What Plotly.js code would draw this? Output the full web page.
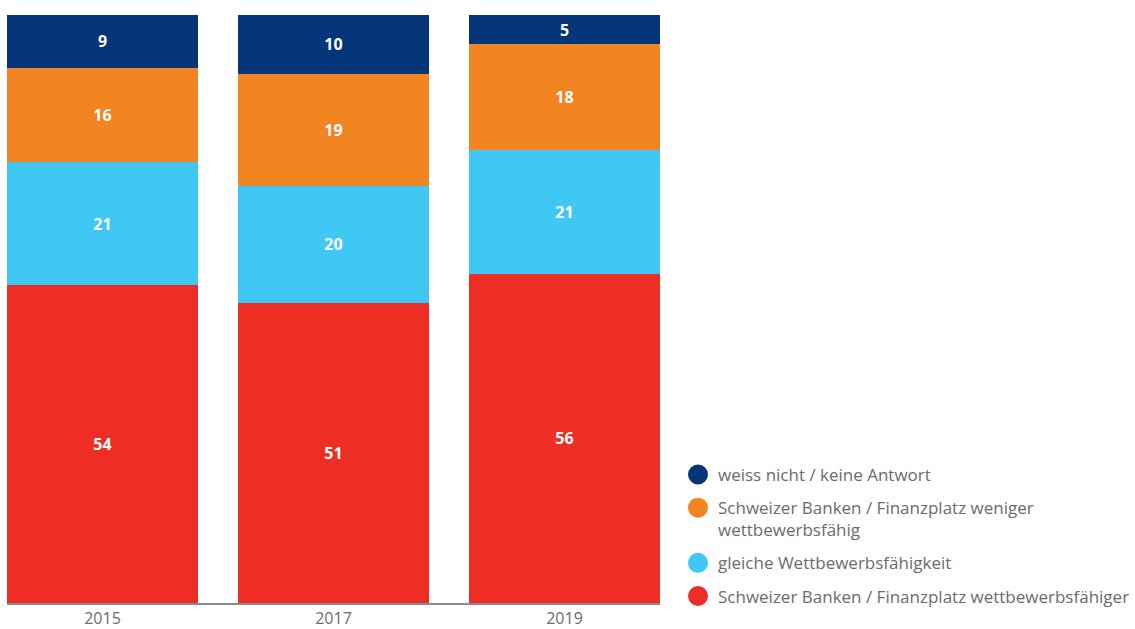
<!DOCTYPE html>
<html>
<head>
<meta charset="utf-8">
<script src="https://cdn.plot.ly/plotly-3.0.1.min.js"></script>
<style>html,body{margin:0;padding:0;background:#fff;}#chart{width:1135px;height:629px;}</style>
</head>
<body>
<div id="chart"></div>
<script>
const years = ['2015', '2017', '2019'];
const wettbewerbsfaehiger = [54, 51, 56];
const gleiche = [21, 20, 21];
const weniger = [16, 19, 18];
const weissNicht = [9, 10, 5];

const seriesNames = [
  'Schweizer Banken / Finanzplatz wettbewerbsfähiger',
  'gleiche Wettbewerbsfähigkeit',
  'Schweizer Banken / Finanzplatz weniger<br>wettbewerbsfähig',
  'weiss nicht / keine Antwort'
];
const seriesValues = [wettbewerbsfaehiger, gleiche, weniger, weissNicht];
const colors = ['#EE2D24', '#40C8F4', '#F28422', '#043578'];

const traces = [];
seriesValues.forEach((vals, i) => {
  traces.push({
    type: 'bar',
    x: years,
    y: vals,
    name: seriesNames[i],
    marker: {color: colors[i], line: {width: 0}},
    text: vals.map(String),
    textposition: 'inside',
    insidetextanchor: 'middle',
    textangle: 0,
    textfont: {family: 'Open Sans, sans-serif', size: 16, color: '#ffffff', weight: 'bold'},
    hoverinfo: 'skip',
    showlegend: false
  });
});
// legend entries with circular markers, top to bottom
for (let i = seriesNames.length - 1; i >= 0; i--) {
  traces.push({
    type: 'scatter',
    mode: 'markers',
    x: [null],
    y: [null],
    name: seriesNames[i],
    legendgroup: 'g' + i,
    marker: {color: colors[i], size: 16, symbol: 'circle', line: {color: colors[i], width: 4}},
    showlegend: true,
    hoverinfo: 'skip'
  });
}

const layout = {
  width: 1135,
  height: 629,
  barmode: 'stack',
  bargap: 0.173,
  margin: {l: 7, r: 475, t: 15, b: 26},
  paper_bgcolor: '#ffffff',
  plot_bgcolor: '#ffffff',
  font: {family: 'Open Sans, sans-serif', color: '#6b6b6b', size: 15},
  xaxis: {
    type: 'category',
    categoryorder: 'array',
    categoryarray: years,
    range: [-0.4135, 2.4135],
    showline: true,
    linecolor: '#8a8a8a',
    linewidth: 2,
    showgrid: false,
    zeroline: false,
    ticks: '',
    ticklabelstandoff: 0,
    tickfont: {size: 16, color: '#6b6b6b'},
    fixedrange: true
  },
  yaxis: {
    range: [0, 100],
    visible: false,
    showgrid: false,
    zeroline: false,
    fixedrange: true
  },
  showlegend: true,
  legend: {
    xref: 'container',
    yref: 'container',
    x: 678 / 1135,
    xanchor: 'left',
    y: (629 - 614) / 629,
    yanchor: 'bottom',
    traceorder: 'grouped',
    valign: 'top',
    font: {size: 17, color: '#6b6b6b'},
    tracegroupgap: 8,
    itemwidth: 30,
    bgcolor: 'rgba(0,0,0,0)'
  }
};

Plotly.newPlot('chart', traces, layout, {displayModeBar: false, staticPlot: true});
</script>
</body>
</html>
